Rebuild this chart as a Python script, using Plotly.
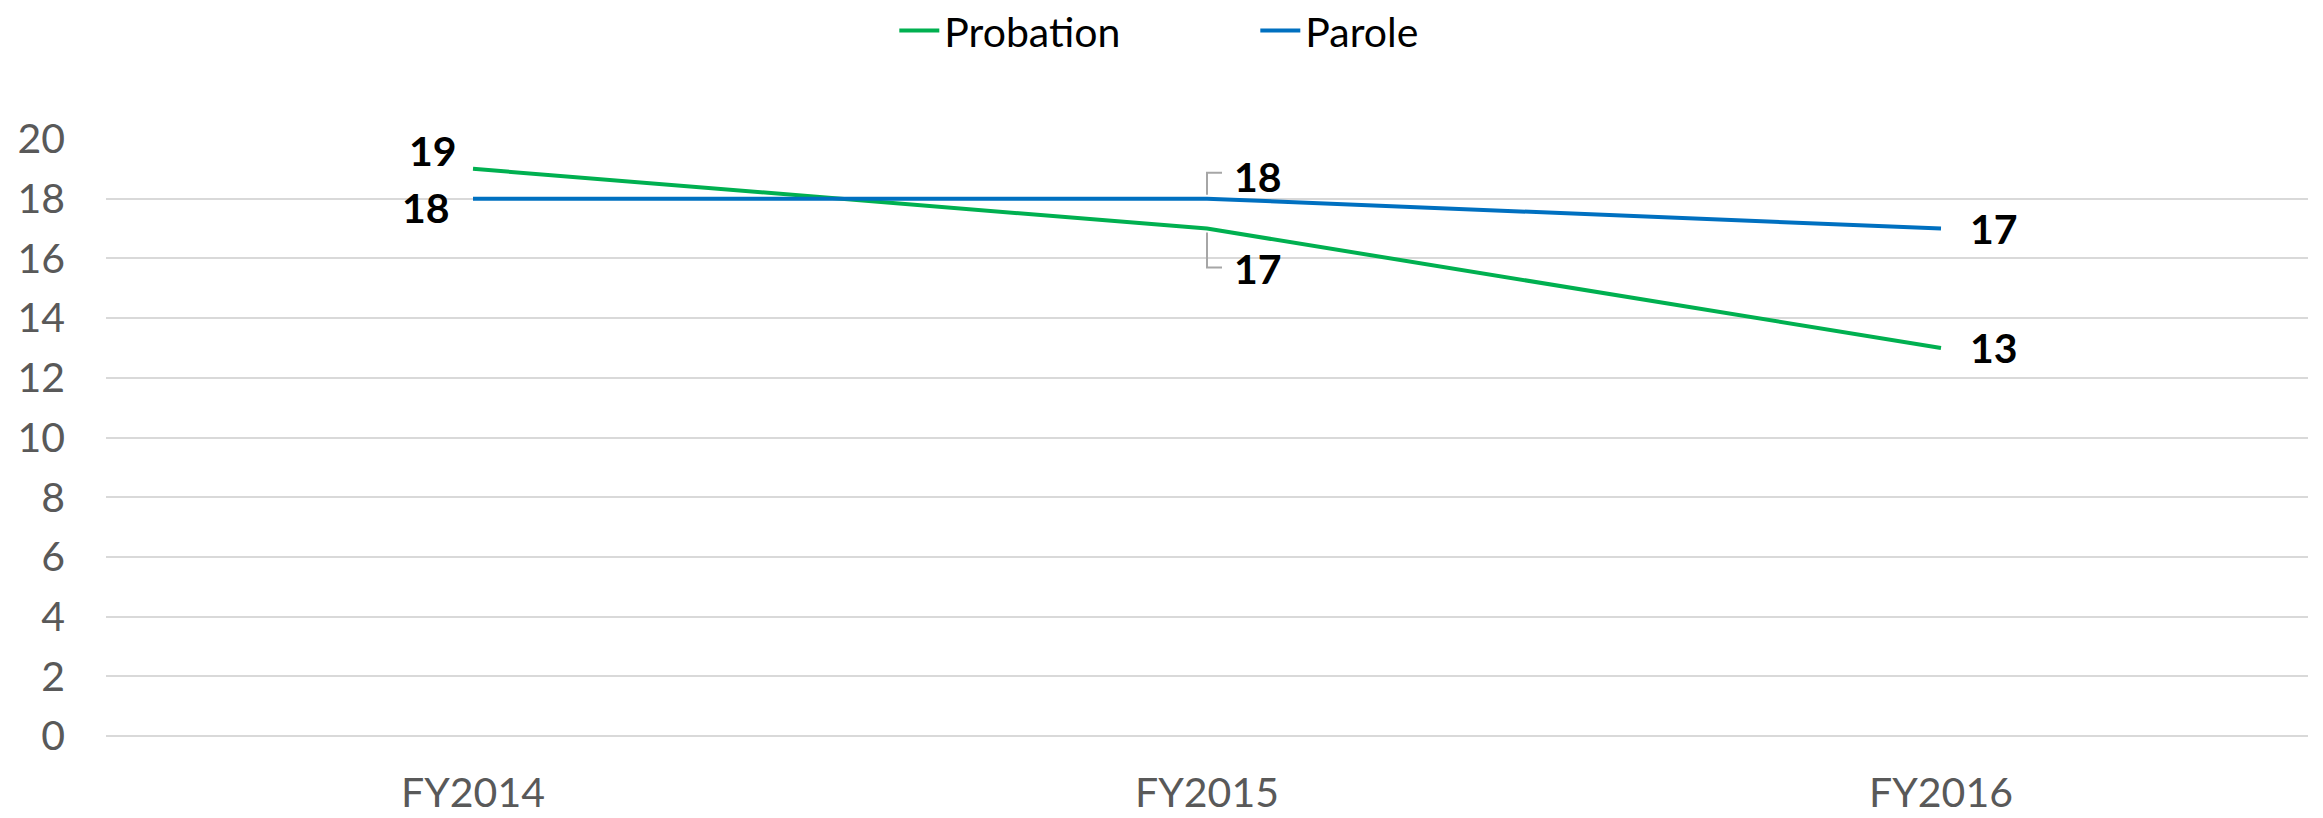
import plotly.graph_objects as go

years = ["FY2014", "FY2015", "FY2016"]
probation = [19, 17, 13]
parole = [18, 18, 17]

# label offsets (pixels) per point: (xanchor, xshift, yshift)
prob_label_pos = [("right", -14, 18), ("left", 25, -40), ("left", 27, 0)]
parole_label_pos = [("right", -21, -9), ("left", 25, 22), ("left", 27, 0)]

GREEN = "#00B050"
BLUE = "#0070C0"
FONT = "Lato"

fig = go.Figure()
fig.add_trace(go.Scatter(x=years, y=probation, name="Probation", mode="lines",
                         line=dict(color=GREEN, width=4), cliponaxis=False))
fig.add_trace(go.Scatter(x=years, y=parole, name="Parole", mode="lines",
                         line=dict(color=BLUE, width=4), cliponaxis=False))

annotations = []
for vals, pos in ((probation, prob_label_pos), (parole, parole_label_pos)):
    for xv, yv, (anc, dx, dy) in zip(years, vals, pos):
        annotations.append(dict(x=xv, y=yv, xref="x", yref="y", text=str(yv),
                                showarrow=False, xanchor=anc, yanchor="middle",
                                xshift=dx, yshift=dy,
                                font=dict(family=FONT, size=41, color="#000000", weight="bold")))

# leader lines for FY2015 labels
shapes = [
    dict(type="path", xref="x", yref="y", xsizemode="pixel", ysizemode="pixel",
         xanchor=years[1], yanchor=parole[1], path="M0,4 L0,26 L15,26",
         line=dict(color="#A6A6A6", width=2)),
    dict(type="path", xref="x", yref="y", xsizemode="pixel", ysizemode="pixel",
         xanchor=years[1], yanchor=probation[1], path="M0,-4 L0,-39 L15,-39",
         line=dict(color="#A6A6A6", width=2)),
]

fig.update_layout(
    width=2323, height=818,
    margin=dict(l=106, r=15, t=139, b=82, autoexpand=False),
    plot_bgcolor="white", paper_bgcolor="white",
    font=dict(family=FONT, size=41, color="#595959"),
    showlegend=True,
    legend=dict(orientation="h", x=0.358, xanchor="left", y=1.181, yanchor="middle",
                font=dict(family=FONT, size=41, color="#000000"),
                entrywidth=306, entrywidthmode="pixels", itemwidth=40),
    annotations=annotations,
    shapes=shapes,
)
fig.update_xaxes(type="category", range=[-0.5, 2.5], showgrid=False, showline=False,
                 zeroline=False, ticks="", ticklabelstandoff=29,
                 tickfont=dict(family=FONT, size=41, color="#595959"))
fig.update_yaxes(range=[0, 20], dtick=2, tick0=0, showgrid=True, gridcolor="#D9D9D9",
                 gridwidth=2, zeroline=True, zerolinecolor="#D9D9D9", zerolinewidth=2,
                 showline=False, ticks="", ticklabelstandoff=40,
                 tickfont=dict(family=FONT, size=41, color="#595959"))

fig.write_html("out.html",
               config={"displayModeBar": False},
               post_script="document.body.style.margin='0';document.body.style.overflow='hidden';")
